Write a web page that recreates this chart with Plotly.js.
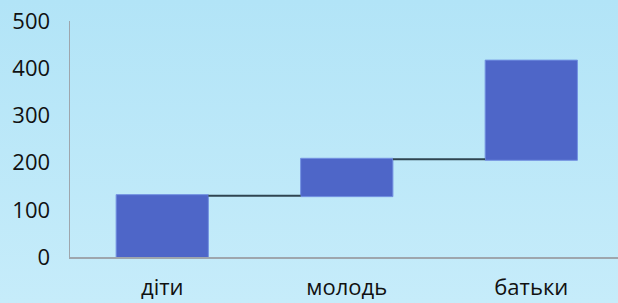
<!DOCTYPE html>
<html>
<head>
<meta charset="utf-8">
<script src="https://cdn.plot.ly/plotly-3.0.1.min.js"></script>
<style>
  html, body { margin: 0; padding: 0; }
  body { width: 618px; height: 303px; overflow: hidden;
         background: linear-gradient(to bottom, #b2e4f7 0%, #c6ecfa 100%); }
  #chart { width: 618px; height: 303px; }
</style>
</head>
<body>
<div id="chart"></div>
<script>
const categories = ["діти", "молодь", "батьки"];
const changes = [130, 77, 208];
const measures = ["relative", "relative", "relative"];
const yTicks = [0, 100, 200, 300, 400, 500];

const trace = {
  type: "waterfall",
  x: categories,
  y: changes,
  measure: measures,
  width: 0.5,
  textinfo: "none",
  hoverinfo: "none",
  increasing: { marker: { color: "#4e66c8", line: { color: "#7392e2", width: 1 } } },
  decreasing: { marker: { color: "#4e66c8", line: { color: "#7392e2", width: 1 } } },
  totals: { marker: { color: "#4e66c8", line: { color: "#7392e2", width: 1 } } },
  connector: { mode: "between", line: { color: "#2f4450", width: 2, dash: "solid" } }
};

const layout = {
  width: 618,
  height: 303,
  margin: { l: 69.5, r: 0, t: 21, b: 46 },
  paper_bgcolor: "rgba(0,0,0,0)",
  plot_bgcolor: "rgba(0,0,0,0)",
  showlegend: false,
  font: { family: "Open Sans, Noto Sans, sans-serif", size: 22, color: "#111111" },
  xaxis: {
    type: "category",
    range: [-0.5, 2.47],
    showgrid: false,
    zeroline: false,
    showline: true,
    linecolor: "#9ea6ad",
    linewidth: 1.5,
    ticks: "outside",
    ticklen: 10,
    tickcolor: "rgba(0,0,0,0)",
    tickfont: { size: 22, color: "#111111" }
  },
  yaxis: {
    range: [0, 500],
    tickvals: yTicks,
    ticktext: yTicks.map(String),
    showgrid: false,
    zeroline: false,
    showline: true,
    linecolor: "#9ea6ad",
    linewidth: 1.5,
    ticks: "outside",
    ticklen: 14,
    tickcolor: "rgba(0,0,0,0)",
    tickfont: { size: 22, color: "#111111" }
  }
};

Plotly.newPlot("chart", [trace], layout, { displayModeBar: false, staticPlot: true });
</script>
</body>
</html>
